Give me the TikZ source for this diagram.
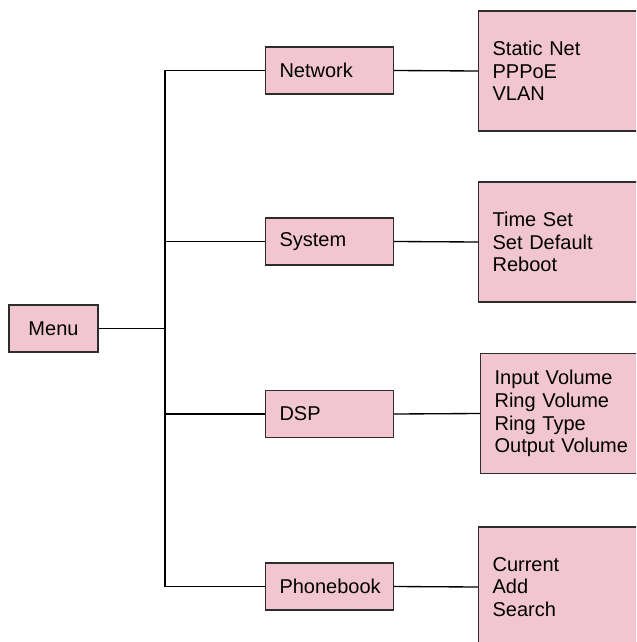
\documentclass[tikz,border=0pt]{standalone}
\usepackage{fontspec}
\setmainfont{Liberation Sans}
\begin{document}
\begin{tikzpicture}[x=0.75pt,y=-0.75pt]
    % Define colors
    \definecolor{boxFill}{RGB}{242,198,208}
    \definecolor{boxLine}{RGB}{45,45,45}
    % Box styles
    \tikzset{
        menubox/.style={draw=boxLine, fill=boxFill, line width=0.9pt,
            minimum width=66.75pt, minimum height=35.25pt, inner sep=0pt,
            font=\fontsize{15}{17}\selectfont},
        groupbox/.style={draw=boxLine, fill=boxFill, line width=0.9pt,
            text width=75pt, align=left, inner xsep=10.5pt, inner ysep=0pt,
            minimum height=35.25pt, font=\fontsize{15}{17}\selectfont},
        itembox/.style={draw=boxLine, fill=boxFill, line width=0.9pt,
            text width=130pt, align=left, inner xsep=10.5pt, inner ysep=0pt,
            minimum height=90pt, anchor=west, font=\fontsize{15}{17}\selectfont},
        link/.style={line width=1pt, black}
    }
    % Page size of the reference
    \useasboundingbox (0,0) rectangle (636,642);
    \clip (0,0) rectangle (636,642);
    % Root
    \node[menubox] (menu) at (53.5,328.5) {Menu};
    % Groups
    \node[groupbox] (net) at (329.5,70.5) {Network};
    \node[groupbox] (sys) at (329.5,241.5) {System};
    \node[groupbox] (dsp) at (329.5,414) {DSP};
    \node[groupbox] (phone) at (329.5,586.5) {Phonebook};
    % Items
    \node[itembox] (netsub) at (478,71) {Static Net\\PPPoE\\VLAN};
    \node[itembox] (syssub) at (478,242) {Time Set\\Set Default\\Reboot};
    \node[itembox] (dspsub) at (480,413.5) {Input Volume\\Ring Volume\\Ring Type\\Output Volume};
    \node[itembox] (phonesub) at (478,587) {Current\\Add\\Search};
    % Trunk line
    \coordinate (trunk) at (165,0);
    \draw[link] (menu.east) -- (menu.east -| trunk);
    \draw[link] (net.west -| trunk) -- (phone.west -| trunk);
    % Branches
    \foreach \g in {net,sys,dsp,phone} {
        \draw[link] (\g.west -| trunk) -- (\g.west);
        \draw[link] (\g.east) -- (\g sub.west);
    }
\end{tikzpicture}
\end{document}
